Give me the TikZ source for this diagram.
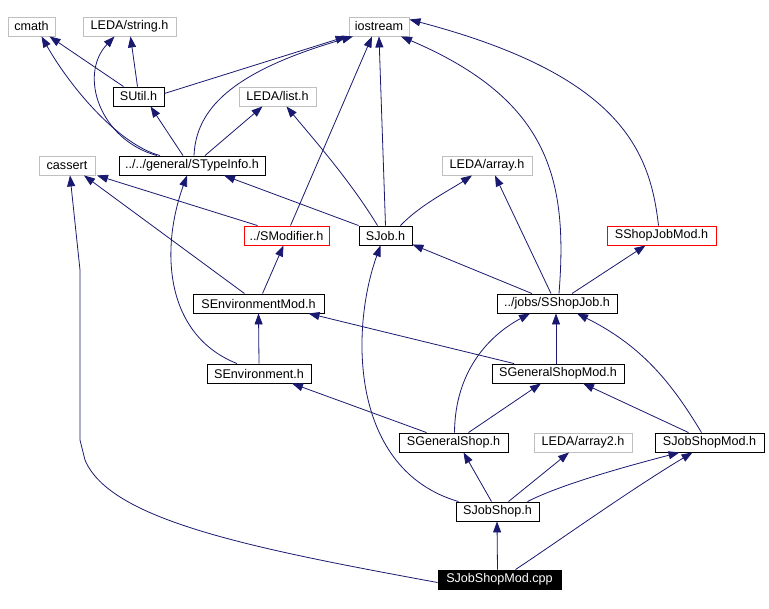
\documentclass[tikz,border=0pt]{standalone}
\usepackage{fontspec}
\setmainfont{Liberation Sans}
\usetikzlibrary{arrows.meta}
\definecolor{edgeblue}{HTML}{191970}
\definecolor{boxgray}{HTML}{BFBFBF}
\begin{document}
\begin{tikzpicture}[x=1pt,y=-1pt,
  base/.style={draw,rectangle,minimum height=19pt,inner sep=0pt,line width=0.9pt,font=\fontsize{12.6}{14}\selectfont},
  ext/.style={base,draw=boxgray},
  inc/.style={base,draw=black},
  redbox/.style={base,draw=red},
  main/.style={base,draw=black,fill=black,text=white},
  e/.style={draw=edgeblue,line width=0.8pt,-{Triangle[length=11pt,width=8pt]},fill=none},
]
\useasboundingbox (0,0) rectangle (769,609);
\fill[white] (0,0) rectangle (769,609);
% nodes
\node[ext,minimum width=47pt]  (cm)  at (31.5,26.5) {cmath};
\node[ext,minimum width=93pt]  (str) at (129.5,26.5) {LEDA/string.h};
\node[ext,minimum width=60pt]  (ios) at (379,26.5) {iostream};
\node[inc,minimum width=51pt]  (su)  at (138.5,96.5) {SUtil.h};
\node[ext,minimum width=77pt]  (lst) at (277.5,96.5) {LEDA/list.h};
\node[ext,minimum width=56pt]  (cas) at (67,165.5) {cassert};
\node[inc,minimum width=146pt] (sti) at (192,165.5) {../../general/STypeInfo.h};
\node[ext,minimum width=90pt]  (arr) at (487,165.5) {LEDA/array.h};
\node[redbox,minimum width=85pt] (smo) at (286.5,235.5) {../SModifier.h};
\node[inc,minimum width=53pt]  (sj)  at (385.5,235.5) {SJob.h};
\node[redbox,minimum width=109pt] (sjm) at (661.5,235.5) {SShopJobMod.h};
\node[inc,minimum width=131pt] (sem) at (258.5,303.5) {SEnvironmentMod.h};
\node[inc,minimum width=120pt] (ssj) at (557,303.5) {../jobs/SShopJob.h};
\node[inc,minimum width=104pt] (sen) at (259,373.5) {SEnvironment.h};
\node[inc,minimum width=132pt] (sgm) at (558,373.5) {SGeneralShopMod.h};
\node[inc,minimum width=109pt] (sgs) at (453.5,442.5) {SGeneralShop.h};
\node[ext,minimum width=98pt]  (ar2) at (583,442.5) {LEDA/array2.h};
\node[inc,minimum width=109pt] (jsm) at (709.5,442.5) {SJobShopMod.h};
\node[inc,minimum width=83pt]  (js)  at (497.5,511.5) {SJobShop.h};
\node[main,minimum width=123pt] (cpp) at (499.5,579.5) {SJobShopMod.cpp};
% edges
\draw[e] ([xshift=-15]su.north) -- ([xshift=18]cm.south);
\draw[e] ([xshift=-1]su.north) -- ([xshift=1]str.south);
\draw[e] ([yshift=3]su.east) -- ([xshift=-2]ios.south west);
\draw[e] ([xshift=-32]sti.north) .. controls (120,145) and (72,90) .. ([xshift=10]cm.south);
\draw[e] ([xshift=-35]sti.north) .. controls (100,140) and (78,75) .. ([xshift=-15]str.south);
\draw[e] ([xshift=-9]sti.north) -- ([xshift=12]su.south);
\draw[e] ([xshift=13]sti.north) -- ([xshift=-15]lst.south);
\draw[e] ([xshift=2]sti.north) .. controls (196,110) and (230,72) .. ([xshift=-26]ios.south);
\draw[e] ([xshift=4]smo.north) -- ([xshift=-7]ios.south);
\draw[e] ([xshift=-29]smo.north) -- ([xshift=30]cas.south);
\draw[e] (sj.north) -- (ios.south);
\draw[e] ([xshift=-8]sj.north) .. controls (350,180) and (310,135) .. ([xshift=9]lst.south);
\draw[e] (sj.north west) -- ([xshift=32]sti.south);
\draw[e] ([xshift=15]sj.north) .. controls (420,205) and (450,190) .. ([xshift=-15]arr.south);
\draw[e] ([xshift=-3]sjm.north) .. controls (650,150) and (620,75) .. ([yshift=7]ios.east);
\draw[e] ([xshift=2]ssj.north) .. controls (568,180) and (550,100) .. ([xshift=22]ios.south);
\draw[e] ([xshift=-6]ssj.north) -- ([xshift=8]arr.south);
\draw[e] ([xshift=-25]ssj.north) -- ([yshift=1]sj.south east);
\draw[e] ([xshift=15]ssj.north) -- ([xshift=-16]sjm.south);
\draw[e] ([xshift=-14]sem.north) -- ([xshift=17]cas.south);
\draw[e] ([xshift=4]sem.north) -- ([xshift=-3]smo.south);
\draw[e] (sen.north) -- (sem.south);
\draw[e] ([xshift=-22]sen.north) .. controls (165,335) and (160,250) .. ([xshift=-5]sti.south);
\draw[e] ([xshift=-44]sgm.north) -- ([xshift=50]sem.south);
\draw[e] ([xshift=-2]sgm.north) -- ([xshift=-1]ssj.south);
\draw[e] ([xshift=-27]sgs.north) -- ([xshift=33]sen.south);
\draw[e] ([xshift=1]sgs.north) .. controls (455,370) and (490,335) .. ([xshift=-27]ssj.south);
\draw[e] ([xshift=15]sgs.north) -- ([xshift=-17]sgm.south);
\draw[e] ([xshift=-21]jsm.north) -- ([xshift=25]sgm.south);
\draw[e] ([xshift=-8]jsm.north) .. controls (670,380) and (640,345) .. ([xshift=20]ssj.south);
\draw[e] ([xshift=-6]js.north) -- ([xshift=10]sgs.south);
\draw[e] ([xshift=11]js.north) -- ([xshift=-14]ar2.south);
\draw[e] ([xshift=30]js.north) .. controls (560,485) and (620,468) .. ([xshift=-30]jsm.south);
\draw[e] ([xshift=-39]js.north) .. controls (350,470) and (350,330) .. ([xshift=-5]sj.south);
\draw[e] ([xshift=-2]cpp.north) -- ([xshift=-0.5]js.south);
\draw[e] ([xshift=16]cpp.north) .. controls (560,540) and (630,490) .. ([xshift=-17]jsm.south);
\draw[e] ([yshift=-3]cpp.west) .. controls (250,548) and (110,520) .. (85,460) -- (80,440) -- (80,270) -- ([xshift=3]cas.south);
\end{tikzpicture}
\end{document}
